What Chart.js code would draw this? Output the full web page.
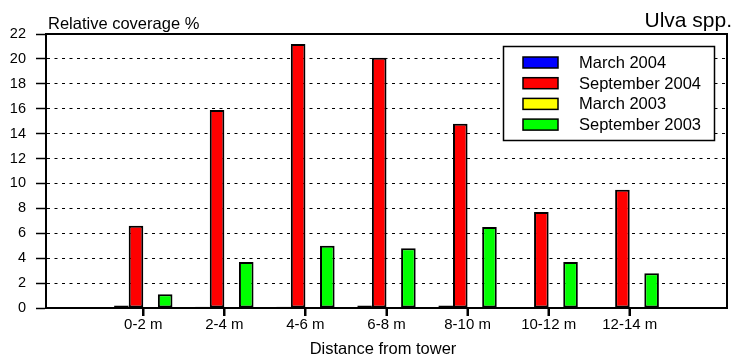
<!DOCTYPE html>
<html>
<head>
<meta charset="utf-8">
<script src="https://cdn.jsdelivr.net/npm/chart.js@4"></script>
<style>
html, body { margin: 0; padding: 0; background: #fff; }
</style>
</head>
<body>
<canvas id="chart" width="734" height="355"></canvas>
<script>
// data
const categories = ["0-2 m", "2-4 m", "4-6 m", "6-8 m", "8-10 m", "10-12 m", "12-14 m"];
const positions  = [1, 2, 3, 4, 5, 6, 7];
const march2004  = [0.2, 0.1, 0.1, 0.2, 0.2, 0, 0];
const sept2004   = [6.6, 15.9, 21.2, 20.1, 14.8, 7.7, 9.5];
const march2003  = [0, 0, 0, 0, 0, 0, 0];
const sept2003   = [1.1, 3.7, 5.0, 4.8, 6.5, 3.7, 2.8];
const yTicks     = [0, 2, 4, 6, 8, 10, 12, 14, 16, 18, 20, 22];

const FONT = '"Liberation Sans", Arial, sans-serif';

function points(values){
    return values.map(function(v, i){ return {x: positions[i], y: v}; });
}

function makeSet(label, values, color){
    return {
        label: label,
        data: points(values),
        backgroundColor: color,
        borderColor: "#000",
        borderWidth: 2,
        borderSkipped: false,
        categoryPercentage: 0.72,
        barPercentage: 1
    };
}

// frame, x tick marks, titles and the boxed legend
const extras = {
    id: "extras",
    afterDraw: function(chart){
        const ctx = chart.ctx;
        const a = chart.chartArea;
        const xs = chart.scales.x;
        ctx.save();

        ctx.strokeStyle = "#000";
        ctx.lineWidth = 2;
        ctx.strokeRect(a.left, a.top, a.right - a.left, a.bottom - a.top);

        // short tick marks under the x axis, one per category
        ctx.fillStyle = "#000";
        positions.forEach(function(p){
            const px = Math.round(xs.getPixelForValue(p));
            ctx.fillRect(px - 1, a.bottom, 2, 8);
        });

        ctx.fillStyle = "#000";
        ctx.textBaseline = "alphabetic";
        ctx.font = "16.5px " + FONT;
        ctx.textAlign = "left";
        ctx.fillText("Relative coverage %", 48, 28.5);

        ctx.font = "21px " + FONT;
        ctx.textAlign = "right";
        ctx.fillText("Ulva spp.", 732, 27);

        ctx.font = "16.5px " + FONT;
        ctx.textAlign = "center";
        ctx.fillText("Distance from tower", 383, 354);

        // legend
        ctx.fillStyle = "#fff";
        ctx.fillRect(503, 46, 212, 95);
        ctx.lineWidth = 1.5;
        ctx.strokeStyle = "#000";
        ctx.strokeRect(503.5, 46.5, 211, 94);

        ctx.font = "16.5px " + FONT;
        ctx.textAlign = "left";
        ctx.textBaseline = "middle";
        chart.data.datasets.forEach(function(ds, i){
            const y = 62.5 + i * 20.7;
            ctx.fillStyle = ds.backgroundColor;
            ctx.fillRect(523, y - 5.5, 35, 11);
            ctx.strokeStyle = "#000";
            ctx.lineWidth = 1.5;
            ctx.strokeRect(523, y - 5.5, 35, 11);
            ctx.fillStyle = "#000";
            ctx.fillText(ds.label, 579, y + 1);
        });

        ctx.restore();
    }
};

new Chart(document.getElementById("chart").getContext("2d"), {
    type: "bar",
    data: {
        datasets: [
            makeSet("March 2004", march2004, "#0000FF"),
            makeSet("September 2004", sept2004, "#FF0000"),
            makeSet("March 2003", march2003, "#FFFF00"),
            makeSet("September 2003", sept2003, "#00FF00")
        ]
    },
    options: {
        responsive: false,
        animation: false,
        devicePixelRatio: 1,
        layout: { padding: { top: 34, right: 7, left: 0, bottom: 0 } },
        plugins: {
            legend: { display: false },
            tooltip: { enabled: false }
        },
        scales: {
            x: {
                type: "linear",
                offset: false,
                min: -0.2,
                max: 8.2,
                afterFit: function(scale){ scale.height = 47; },
                afterBuildTicks: function(scale){
                    scale.ticks = positions.map(function(p){ return {value: p}; });
                },
                grid: {
                    offset: false,
                    drawOnChartArea: false,
                    drawTicks: true,
                    tickLength: 8,
                    tickColor: "#000",
                    tickWidth: 2
                },
                border: { color: "#000", width: 2 },
                ticks: {
                    autoSkip: false,
                    maxRotation: 0,
                    padding: 0,
                    color: "#000",
                    font: { family: FONT, size: 15 },
                    callback: function(value){
                        return categories[positions.indexOf(value)];
                    }
                }
            },
            y: {
                min: 0,
                max: 22,
                afterFit: function(scale){ scale.width = 46; },
                afterBuildTicks: function(scale){
                    scale.ticks = yTicks.map(function(v){ return {value: v}; });
                },
                grid: {
                    color: "#000",
                    lineWidth: 1,
                    tickLength: 10,
                    tickColor: "#000",
                    tickWidth: 1.5,
                    tickBorderDash: []
                },
                border: { color: "#000", width: 2, dash: [3, 4.5] },
                ticks: {
                    padding: 10,
                    color: "#000",
                    font: { family: FONT, size: 14.5 }
                }
            }
        }
    },
    plugins: [extras]
});
</script>
</body>
</html>
